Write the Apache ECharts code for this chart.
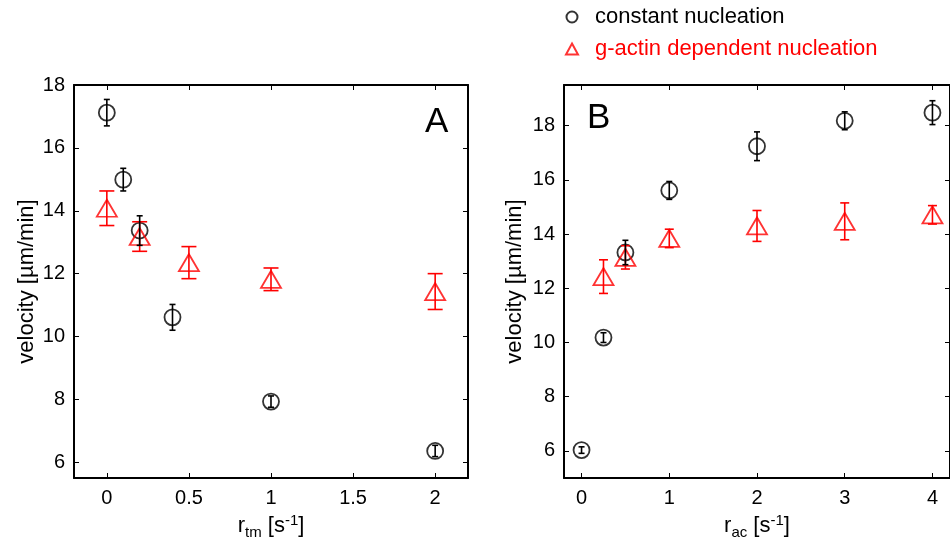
<!DOCTYPE html>
<html><head><meta charset="utf-8">
<script src="https://cdn.jsdelivr.net/npm/echarts@6/dist/echarts.min.js"></script>
<style>html,body{margin:0;padding:0;background:#fff}#c{width:950px;height:545px}</style>
</head><body><div id="c"></div>
<script>
// Panel A: velocity vs r_tm
const xA_const = [0, 0.1, 0.2, 0.4, 1, 2];
const yA_const = [17.12, 14.99, 13.37, 10.61, 7.93, 6.36];
const eA_const = [0.42, 0.36, 0.47, 0.41, 0.18, 0.18];
const xA_gact = [0, 0.2, 0.5, 1, 2];
const yA_gact = [14.08, 13.18, 12.35, 11.82, 11.43];
const eA_gact = [0.55, 0.47, 0.51, 0.36, 0.57];
// Panel B: velocity vs r_ac
const xB_const = [0, 0.25, 0.5, 1, 2, 3, 4];
const yB_const = [6.03, 10.18, 13.32, 15.61, 17.24, 18.18, 18.48];
const eB_const = [0.12, 0.18, 0.45, 0.33, 0.53, 0.33, 0.44];
const xB_gact = [0.25, 0.5, 1, 2, 3, 4];
const yB_gact = [12.43, 13.14, 13.84, 14.30, 14.47, 14.71];
const eB_gact = [0.62, 0.43, 0.34, 0.57, 0.68, 0.34];
// ticks
const xTicksA = [0, 0.5, 1, 1.5, 2];
const xTicksB = [0, 1, 2, 3, 4];
const yTicks = [6, 8, 10, 12, 14, 16, 18];
const seriesNames = ['constant nucleation', 'g-actin dependent nucleation'];

const FONT = 'Liberation Sans, Arial, sans-serif';
const RED = '#ff0000';

function pts(xs, ys) { return xs.map((x, i) => [x, ys[i]]); }
function errPts(xs, ys, es) { return xs.map((x, i) => [x, ys[i] - es[i], ys[i] + es[i]]); }

function errSeries(gi, data, color, capW) {
  return {
    type: 'custom', xAxisIndex: gi * 2, yAxisIndex: gi * 2, z: 5, silent: true,
    data: data,
    renderItem: function (params, api) {
      const x = api.value(0);
      const lo = api.coord([x, api.value(1)]);
      const hi = api.coord([x, api.value(2)]);
      const s = { stroke: color, lineWidth: 1.6 };
      return { type: 'group', children: [
        { type: 'line', shape: { x1: lo[0], y1: lo[1], x2: hi[0], y2: hi[1] }, style: s },
        { type: 'line', shape: { x1: lo[0] - capW / 2, y1: lo[1], x2: lo[0] + capW / 2, y2: lo[1] }, style: s },
        { type: 'line', shape: { x1: hi[0] - capW / 2, y1: hi[1], x2: hi[0] + capW / 2, y2: hi[1] }, style: s }
      ]};
    }
  };
}

function xAxes(gi, min, max, ticks, nameRich) {
  const base = {
    gridIndex: gi, type: 'value', min: min, max: max,
    splitLine: { show: false },
    axisLine: { show: true, onZero: false, lineStyle: { color: '#000', width: 2 } },
    axisTick: { show: true, inside: true, length: 5, customValues: ticks, lineStyle: { color: '#000', width: 1 } }
  };
  return [
    Object.assign({}, base, {
      position: 'bottom',
      axisLabel: { show: true, customValues: ticks, color: '#000', fontSize: 20, fontFamily: FONT, margin: 10 },
      name: nameRich, nameLocation: 'middle', nameGap: 34,
      nameTextStyle: {
        color: '#000', fontFamily: FONT, fontSize: 22,
        rich: {
          r: { fontSize: 22, fontFamily: FONT, color: '#000' },
          sub: { fontSize: 15, fontFamily: FONT, color: '#000', padding: [12, 0, 0, 0] },
          sup: { fontSize: 15, fontFamily: FONT, color: '#000', padding: [0, 0, 12, 0] }
        }
      }
    }),
    Object.assign({}, base, { position: 'top', axisLabel: { show: false } })
  ];
}

function yAxes(gi, min, max, ticks, gap) {
  const base = {
    gridIndex: gi, type: 'value', min: min, max: max,
    splitLine: { show: false },
    axisLine: { show: true, onZero: false, lineStyle: { color: '#000', width: 2 } },
    axisTick: { show: true, inside: true, length: 5, customValues: ticks, lineStyle: { color: '#000', width: 1 } }
  };
  return [
    Object.assign({}, base, {
      position: 'left',
      axisLabel: { show: true, customValues: ticks, color: '#000', fontSize: 20, fontFamily: FONT, margin: 9 },
      name: 'velocity [µm/min]', nameLocation: 'middle', nameGap: gap,
      nameTextStyle: { color: '#000', fontFamily: FONT, fontSize: 22 }
    }),
    Object.assign({}, base, { position: 'right', axisLabel: { show: false } })
  ];
}

const circleStyle = { color: 'rgba(255,255,255,0)', borderColor: '#000', borderWidth: 1.8 };
const triStyle = { color: 'rgba(255,255,255,0)', borderColor: RED, borderWidth: 1.8 };

const option = {
  animation: false,
  backgroundColor: '#fff',
  grid: [
    { left: 74, width: 394, top: 85, bottom: 67 },
    { left: 564, width: 394, top: 85, bottom: 67 }
  ],
  title: [
    { text: 'A', left: 420, top: 100, textStyle: { fontSize: 35, fontWeight: 'normal', fontFamily: FONT, color: '#000' } },
    { text: 'B', left: 582, top: 96, textStyle: { fontSize: 35, fontWeight: 'normal', fontFamily: FONT, color: '#000' } }
  ],
  legend: {
    orient: 'vertical', left: 560, top: 1, itemWidth: 12, itemHeight: 11, itemGap: 10,
    textStyle: { fontSize: 22, fontFamily: FONT, rich: { p: { width: 12 } } },
    formatter: function (name) { return '{p|}' + name; },
    data: [
      { name: seriesNames[0], icon: 'circle', textStyle: { color: '#000' } },
      { name: seriesNames[1], icon: 'triangle', textStyle: { color: RED } }
    ]
  },
  xAxis: [].concat(
    xAxes(0, -0.2, 2.2, xTicksA, '{r|r}{sub|tm}{r| [s}{sup|-1}{r|]}'),
    xAxes(1, -0.2, 4.2, xTicksB, '{r|r}{sub|ac}{r| [s}{sup|-1}{r|]}')
  ),
  yAxis: [].concat(
    yAxes(0, 5.5, 18, yTicks, 36),
    yAxes(1, 5, 19.5, yTicks, 38)
  ),
  series: [
    { name: seriesNames[0], type: 'scatter', xAxisIndex: 0, yAxisIndex: 0, symbol: 'circle', symbolSize: 16, itemStyle: circleStyle, data: pts(xA_const, yA_const), z: 3 },
    { name: seriesNames[1], type: 'scatter', xAxisIndex: 0, yAxisIndex: 0, symbol: 'triangle', symbolSize: [20, 17], itemStyle: triStyle, data: pts(xA_gact, yA_gact), z: 3 },
    { name: seriesNames[0], type: 'scatter', xAxisIndex: 2, yAxisIndex: 2, symbol: 'circle', symbolSize: 16, itemStyle: circleStyle, data: pts(xB_const, yB_const), z: 3 },
    { name: seriesNames[1], type: 'scatter', xAxisIndex: 2, yAxisIndex: 2, symbol: 'triangle', symbolSize: [20, 17], itemStyle: triStyle, data: pts(xB_gact, yB_gact), z: 3 },
    errSeries(0, errPts(xA_gact, yA_gact, eA_gact), RED, 15),
    errSeries(0, errPts(xA_const, yA_const, eA_const), '#000', 6),
    errSeries(1, errPts(xB_gact, yB_gact, eB_gact), RED, 9),
    errSeries(1, errPts(xB_const, yB_const, eB_const), '#000', 6)
  ]
};
echarts.init(document.getElementById('c'), null, { renderer: 'canvas' }).setOption(option);
</script>
</body></html>
